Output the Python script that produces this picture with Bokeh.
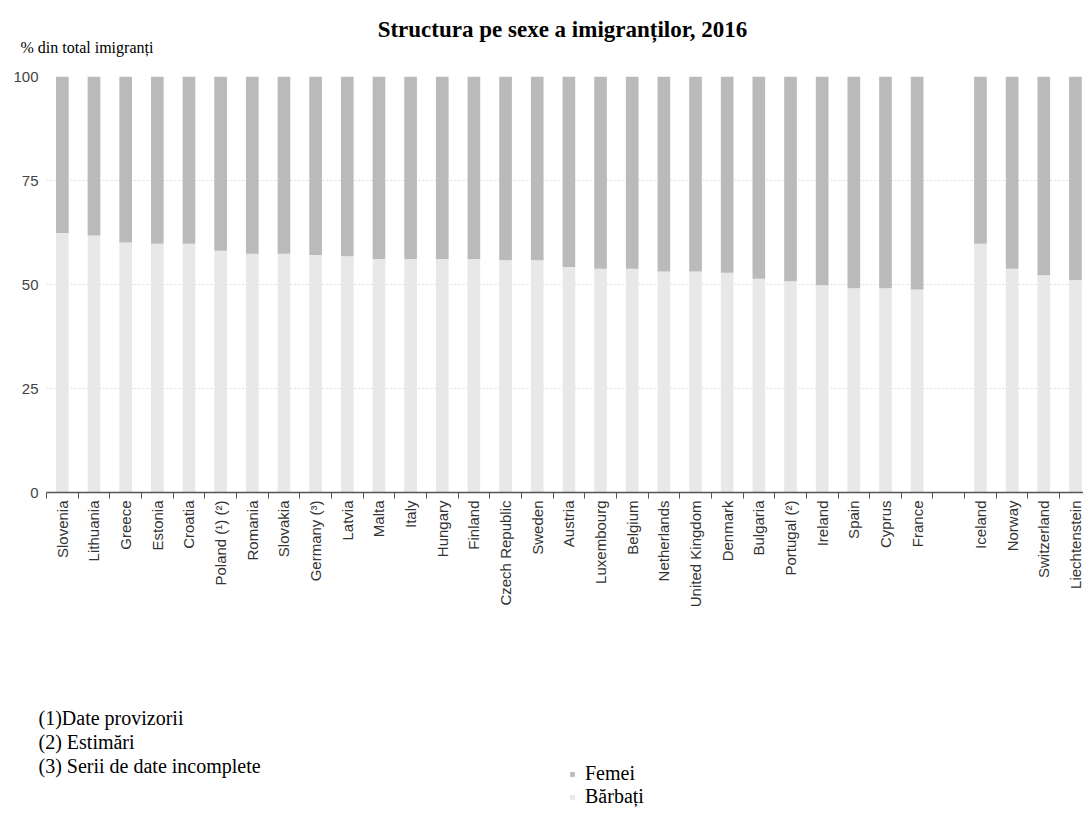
import math
from bokeh.plotting import figure
from bokeh.layouts import column, row
from bokeh.models import (FixedTicker, ColumnDataSource, Label, Legend, LegendItem,
                          Range1d)
from bokeh.embed import file_html
from bokeh.resources import INLINE

# ---------------- data ----------------
title_text = "Structura pe sexe a imigranților, 2016"
y_title = "% din total imigranți"
countries = ["Slovenia", "Lithuania", "Greece", "Estonia", "Croatia",
             "Poland (¹) (²)", "Romania", "Slovakia", "Germany (³)", "Latvia",
             "Malta", "Italy", "Hungary", "Finland", "Czech Republic", "Sweden",
             "Austria", "Luxembourg", "Belgium", "Netherlands", "United Kingdom",
             "Denmark", "Bulgaria", "Portugal (²)", "Ireland", "Spain", "Cyprus",
             "France", "", "Iceland", "Norway", "Switzerland", "Liechtenstein"]
barbati = [62.4, 61.8, 60.1, 59.8, 59.8, 58.1, 57.4, 57.4, 57.1, 56.8,
           56.1, 56.1, 56.1, 56.1, 55.8, 55.8, 54.2, 53.8, 53.8, 53.1, 53.1,
           52.8, 51.4, 50.8, 49.8, 49.1, 49.1, 48.8, None, 59.8, 53.8, 52.2, 51.1]
femei = [37.6, 38.2, 39.9, 40.2, 40.2, 41.9, 42.6, 42.6, 42.9, 43.2,
         43.9, 43.9, 43.9, 43.9, 44.2, 44.2, 45.8, 46.2, 46.2, 46.9, 46.9,
         47.2, 48.6, 49.2, 50.2, 50.9, 50.9, 51.2, None, 40.2, 46.2, 47.8, 48.9]
y_ticks = [0, 25, 50, 75, 100]
series_names = ["Femei", "Bărbați"]
footnotes = ["(1)Date provizorii", "(2) Estimări", "(3) Serii de date incomplete"]

# ---------------- style / layout ----------------
C_F = "#bababa"
C_B = "#e8e8e8"
SERIF = "Liberation Serif"
SANS = "Liberation Sans"

W = 1083
TOP_H = 60
MAIN_H = 585
BOT_H = 171
FRAME_L, FRAME_T, FRAME_H = 46, 16, 416
CAT_W = 31.66
X0 = -0.5
X1 = X0 + (W - FRAME_L) / CAT_W
SHIFT = 200  # text panels: data x = page pixel + SHIFT


def panel(h):
    f = figure(width=W, height=h, output_backend="svg", toolbar_location=None,
               x_range=Range1d(SHIFT, SHIFT + W), y_range=Range1d(h, 0),
               x_axis_type=None, y_axis_type=None, min_border=0,
               outline_line_color=None)
    f.grid.visible = False
    return f


# ---------------- top: title + y-axis caption ----------------
top = panel(TOP_H)
top.add_layout(Label(x=SHIFT + 562, y=29, text=title_text, text_align="center",
                     text_baseline="alphabetic", text_font=SERIF,
                     text_font_style="bold", text_font_size="23px",
                     text_color="#000000"))
top.add_layout(Label(x=SHIFT + 20, y=47, text=y_title, text_align="left",
                     text_baseline="alphabetic", text_font=SERIF,
                     text_font_size="16px", text_color="#000000"))

# ---------------- main chart ----------------
idx = [i for i, c in enumerate(countries) if c]
src = ColumnDataSource(dict(
    x=idx,
    name=[countries[i] for i in idx],
    barbati=[barbati[i] for i in idx],
    femei=[femei[i] for i in idx],
))

p = figure(width=W, height=MAIN_H, output_backend="svg", toolbar_location=None,
           x_range=Range1d(X0, X1), y_range=Range1d(0, 100),
           min_border_left=FRAME_L, min_border_right=0, min_border_top=FRAME_T,
           min_border_bottom=MAIN_H - FRAME_T - FRAME_H, outline_line_color=None,
           background_fill_color="white", border_fill_color="white")

rs = p.vbar_stack(["barbati", "femei"], x="x", width=0.4, color=[C_B, C_F],
                  line_color=None, source=src)

p.xaxis.ticker = FixedTicker(ticks=idx,
                             minor_ticks=[i - 0.5 for i in range(len(countries) + 1)])
p.xaxis.major_label_overrides = {i: countries[i] for i in idx}
p.xaxis.major_label_orientation = math.pi / 2
p.xaxis.major_tick_line_color = None
p.xaxis.major_tick_out = 0
p.xaxis.major_tick_in = 0
p.xaxis.minor_tick_line_color = "#555555"
p.xaxis.minor_tick_out = 6
p.xaxis.minor_tick_in = 0
p.xaxis.axis_line_color = "#555555"
p.xaxis.axis_line_width = 1.5
p.xaxis.major_label_standoff = 2
p.xaxis.major_label_text_font = SANS
p.xaxis.major_label_text_font_size = "15px"
p.xaxis.major_label_text_color = "#333333"
p.xgrid.visible = False

p.yaxis.ticker = FixedTicker(ticks=y_ticks)
p.yaxis.axis_line_color = None
p.yaxis.major_tick_line_color = None
p.yaxis.minor_tick_line_color = None
p.yaxis.major_tick_out = 0
p.yaxis.major_label_standoff = 8
p.yaxis.major_label_text_font = SANS
p.yaxis.major_label_text_font_size = "15px"
p.yaxis.major_label_text_color = "#444444"
p.ygrid.ticker = FixedTicker(ticks=y_ticks)
p.ygrid.grid_line_color = "#dddddd"
p.ygrid.grid_line_dash = "2 2"

# ---------------- bottom: footnotes + legend ----------------
bot = panel(BOT_H)
for k, t in enumerate(footnotes):
    bot.add_layout(Label(x=SHIFT + 38, y=72 + 24 * k, text=t, text_align="left",
                         text_baseline="alphabetic", text_font=SERIF,
                         text_font_size="20px", text_color="#000000"))

# legend swatches: same series, zero-size and outside this panel's range
lf = bot.vbar(x="x", top="femei", bottom="femei", width=0, color=C_F,
              line_color=None, source=src)
lb = bot.vbar(x="x", top="barbati", bottom="barbati", width=0, color=C_B,
              line_color=None, source=src)
ROW_H = 22
legend = Legend(items=[LegendItem(label=series_names[0], renderers=[lf]),
                       LegendItem(label=series_names[1], renderers=[lb])],
                location=(569, BOT_H - 119 - 2 * ROW_H),
                orientation="vertical", glyph_width=6, glyph_height=6,
                label_height=ROW_H, label_width=20, spacing=0, padding=0, margin=0,
                border_line_color=None, background_fill_alpha=0,
                label_text_font=SERIF, label_text_font_size="20px",
                label_text_baseline="alphabetic",
                label_standoff=10, label_text_color="#000000")
bot.add_layout(legend, "center")

layout = column(row(top), p, row(bot), spacing=0)
open("out.html", "w").write(file_html(layout, INLINE))
